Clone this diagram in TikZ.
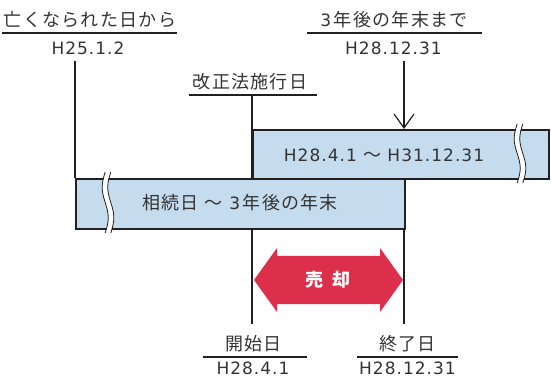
\documentclass[tikz,border=0pt]{standalone}
\usepackage{fontspec}
\setmainfont{Noto Sans CJK JP}
\newfontfamily\jpf[LetterSpace=7]{Noto Sans CJK JP}
\newfontfamily\ltf[LetterSpace=6]{DejaVu Sans}
\newcommand{\lt}[1]{{\fontsize{17}{20}\selectfont\ltf #1}}
\newcommand{\tl}{\hspace{0.35em}～\hspace{0.35em}}
\usetikzlibrary{arrows.meta}
\definecolor{boxblue}{HTML}{C5DCEF}
\definecolor{sellred}{HTML}{DC2F4B}
\definecolor{ink}{HTML}{231F20}
\definecolor{txt}{HTML}{333333}
\newcommand{\wavybreak}[3]{%
  \draw[white, line width=5pt] plot[domain=0:1, samples=40, smooth] ({#1 - 3*sin(360*\x)}, {#2 + (#3-#2)*\x});
  \draw[ink, line width=0.8pt] plot[domain=0:1, samples=40, smooth] ({#1 - 2.8 - 3*sin(360*\x)}, {#2 + (#3-#2)*\x});
  \draw[ink, line width=0.8pt] plot[domain=0:1, samples=40, smooth] ({#1 + 2.8 - 3*sin(360*\x)}, {#2 + (#3-#2)*\x});
}
\begin{document}
\begin{tikzpicture}[x=1pt, y=-1pt,
  lbl/.style={font=\fontsize{18}{20}\selectfont\jpf, text=txt, inner sep=0pt, anchor=center},
  rule/.style={draw=ink, line width=1.6pt},
  vline/.style={draw=ink, line width=1.8pt},
  periodbox/.style={draw=ink, line width=2.4pt, fill=boxblue, inner sep=0pt, anchor=north west},
  selltxt/.style={font=\fontsize{18}{20}\selectfont\bfseries, text=white, inner sep=0pt}
]
\useasboundingbox (0,0) rectangle (551,379);

% top-left label
\node[lbl] (deathlbl) at (90,20) {亡くなられた日から};
\coordinate (deathulL) at (2,33);
\coordinate (deathulR) at (177,33);
\draw[rule] (deathulL) -- (deathulR);
\node[lbl] (deathdate) at (88,48.5) {\lt{H25.1.2}};

% top-right label
\node[lbl] (endlbl) at (394,20) {\lt{3}\hspace{0.15em}年後の年末まで};
\coordinate (endulL) at (307,33);
\coordinate (endulR) at (482,33);
\draw[rule] (endulL) -- (endulR);
\node[lbl] (enddate) at (393.5,48) {\lt{H28.12.31}};

% reform label
\node[lbl] (reflbl) at (250,81.5) {改正法施行日};
\coordinate (refulL) at (189,95);
\coordinate (refulR) at (317,95);
\draw[rule] (refulL) -- (refulR);

% vertical guide lines
\coordinate (deathtop) at (75,61);
\coordinate (reftop) at (252,95);
\coordinate (refbot) at (252,324);
\coordinate (endtop) at (404,61);
\coordinate (fintop) at (404,228);
\coordinate (finbot) at (404,324);
\draw[vline] (reftop) -- (refbot);
\draw[vline] (fintop) -- (finbot);

% boxes
\node[periodbox, minimum width=296pt, minimum height=49pt] (newbox) at (252,129) {};
\node[periodbox, minimum width=329pt, minimum height=50pt] (oldbox) at (75,178) {};
\draw[vline] (deathtop) -- (oldbox.north west);
\node[lbl] (newtxt) at (384,155) {\lt{H28.4.1}\tl\lt{H31.12.31}};
\node[lbl] (oldtxt) at (240,203) {相続日\tl\lt{3}\hspace{0.15em}年後の年末};

\wavybreak{520}{124}{183}
\wavybreak{108}{172}{233}

% arrow from deadline label
\draw[draw=ink, line width=1.5pt, -{Straight Barb[length=14pt, width=20pt, line width=1.2pt]}] (endtop) -- (endtop |- newbox.north);

% sale double arrow
\fill[sellred] (254,280) -- (277,248) -- (277,256) -- (380,256) -- (380,248) -- (403,280)
  -- (380,312) -- (380,304) -- (277,304) -- (277,312) -- cycle;
\node[selltxt] (sell) at (328,280) {売\hspace{0.55em}却};

% bottom labels
\node[lbl] (startlbl) at (253.5,344) {開始日};
\coordinate (startulL) at (203,357);
\coordinate (startulR) at (307,357);
\draw[rule] (startulL) -- (startulR);
\node[lbl] (startdate) at (253,368.5) {\lt{H28.4.1}};

\node[lbl] (finlbl) at (407.5,344) {終了日};
\coordinate (finulL) at (357,357);
\coordinate (finulR) at (458,357);
\draw[rule] (finulL) -- (finulR);
\node[lbl] (findate) at (407.5,368.5) {\lt{H28.12.31}};
\end{tikzpicture}
\end{document}
